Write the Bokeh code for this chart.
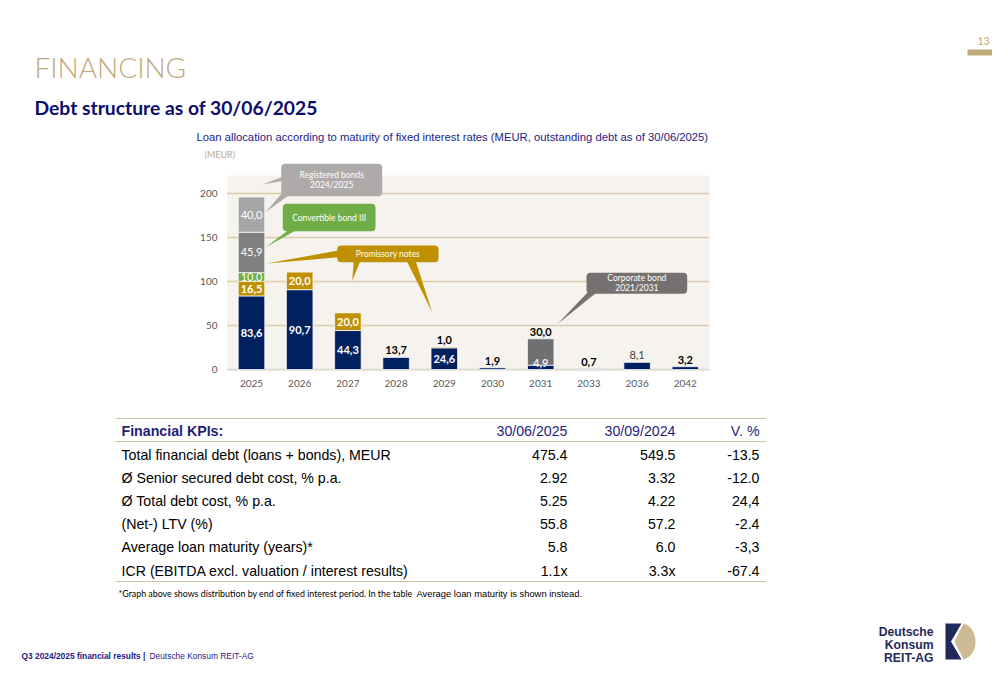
from bokeh.plotting import figure
from bokeh.models import Range1d, BoxAnnotation, ColumnDataSource, Label
from bokeh.core.properties import value
from bokeh.embed import file_html
from bokeh.resources import INLINE
import numpy as np

# ---------------- data ----------------
years = ["2025", "2026", "2027", "2028", "2029", "2030", "2031", "2033", "2036", "2042"]
loans = [83.6, 90.7, 44.3, 13.7, 24.6, 1.9, 4.9, 0.7, 8.1, 3.2]
promissory = [16.5, 20.0, 20.0, 0, 1.0, 0, 0, 0, 0, 0]
green_seg = [10.0, 0, 0, 0, 0, 0, 0, 0, 0, 0]
convertible = [45.9, 0, 0, 0, 0, 0, 0, 0, 0, 0]
registered = [40.0, 0, 0, 0, 0, 0, 0, 0, 0, 0]
corporate = [0, 0, 0, 0, 0, 0, 30.0, 0, 0, 0]
y_ticks = [0, 50, 100, 150, 200]

kpi_header = ["Financial KPIs:", "30/06/2025", "30/09/2024", "V. %"]
kpi_labels = ["Total financial debt (loans + bonds), MEUR",
              "\u00d8 Senior secured debt cost, % p.a.",
              "\u00d8 Total debt cost, % p.a.",
              "(Net-) LTV (%)",
              "Average loan maturity (years)*",
              "ICR (EBITDA excl. valuation / interest results)"]
col_2025 = ["475.4", "2.92", "5.25", "55.8", "5.8", "1.1x"]
col_2024 = ["549.5", "3.32", "4.22", "57.2", "6.0", "3.3x"]
col_var = ["-13.5", "-12.0", "24,4", "-2.4", "-3,3", "-67.4"]

# ---------------- styles ----------------
NAVY = "#002060"
GOLD = "#BF9000"
GREEN = "#70AD47"
DGRAY = "#808080"
LGRAY = "#A6A6A6"
CGRAY = "#707070"
TAN = "#BFA97B"
TITLE_BLUE = "#1C1C84"
CAL = value("Lato")
ARIAL = value("Liberation Sans")

W, H = 992, 677
p = figure(width=W, height=H, output_backend="svg", toolbar_location=None,
           x_range=Range1d(0, W), y_range=Range1d(0, H), min_border=0,
           x_axis_location=None, y_axis_location=None)
p.grid.visible = False
p.outline_line_color = None
p.background_fill_color = "white"
p.border_fill_color = "white"


def T(y):
    return H - y


def txt(x, y, s, size, color, font=ARIAL, style="normal", align="left", baseline="middle"):
    p.text(x=[x], y=[T(y)], text=[s], text_font=font, text_font_size=size,
           text_color=color, text_font_style=style, text_align=align, text_baseline=baseline)


# ---------------- chart scales ----------------
X0, DX = 251.0, 48.2      # page x of first category, spacing
Y0, PX = 369.0, 0.88      # page y of zero, px per unit
p.extra_x_ranges = {"cx": Range1d((0 - X0) / DX, (W - X0) / DX)}
p.extra_y_ranges = {"cy": Range1d((Y0 - H) / PX, (Y0 - 0) / PX)}
CR = dict(x_range_name="cx", y_range_name="cy")

# plot background
p.quad(left=[-0.504], right=[9.5], bottom=[-2.3], top=[220.5],
       fill_color="#F6F3EE", line_color=None, **CR)
# gridlines
grid_cols = ["#DCD7CE" if t == 0 else "#DCCDAA" for t in y_ticks]
p.segment(x0=[-0.504] * len(y_ticks), x1=[9.5] * len(y_ticks), y0=y_ticks, y1=y_ticks,
          line_color=grid_cols, line_width=1.6, **CR)

idx = np.arange(len(years))
series = [("loans", loans, NAVY), ("promissory", promissory, GOLD), ("green", green_seg, GREEN),
          ("convertible", convertible, DGRAY), ("registered", registered, LGRAY),
          ("corporate", corporate, CGRAY)]
bottom = np.zeros(len(years))
seg_info = []
totals = np.sum([np.array(s[1]) for s in series], axis=0)
for name, vals, col in series:
    v = np.array(vals, dtype=float)
    top = bottom + v
    mask = v > 0
    src = ColumnDataSource(dict(x=idx[mask], b=bottom[mask], t=top[mask]))
    p.vbar(x="x", bottom="b", top="t", width=0.55, source=src, fill_color=col,
           line_color="white", line_width=0.7, **CR)
    for i in np.where(mask)[0]:
        seg_info.append((name, i, bottom[i], top[i], v[i]))
    bottom = top.copy()


def fmt(v):
    return f"{v:.1f}".replace(".", ",")


lx, ly, lt, lc, ls = [], [], [], [], []
for name, i, b, t, v in seg_info:
    is_top = abs(t - totals[i]) < 1e-9
    if name == "corporate":
        y, c, s = t + 7 / PX, "black", "bold"
    elif v >= 15 or (v >= 9 and not is_top):
        y = (b + t) / 2
        c = "white"
        s = "bold" if name in ("loans", "promissory") else "normal"
    elif is_top:
        y = t + 7 / PX
        c, s = ("#404040", "normal") if years[i] == "2036" else ("black", "bold")
    else:
        y, c, s = t + 2 / PX, "#F0F0F4", "bold"
    lx.append(i); ly.append(y); lt.append(fmt(v)); lc.append(c); ls.append(s)

for style in ("bold", "normal"):
    sel = [k for k in range(len(lt)) if ls[k] == style]
    p.text(x=[lx[k] for k in sel], y=[ly[k] for k in sel], text=[lt[k] for k in sel],
           text_color=[lc[k] for k in sel], text_font=CAL, text_font_size="11px",
           text_font_style=style, text_align="center", text_baseline="middle", **CR)

# axis labels
p.text(x=idx, y=[-15.9] * len(years), text=years, text_font=CAL, text_font_size="10px",
       text_color="#595959", text_align="center", text_baseline="middle", **CR)
p.text(x=[(217 - X0) / DX] * len(y_ticks), y=y_ticks, text=[str(t) for t in y_ticks],
       text_font=CAL, text_font_size="10px", text_color="#595959", text_align="right",
       text_baseline="middle", **CR)


# ---------------- callouts ----------------
def callout(l, t, r, b, fill, lines, pointers):
    for tri in pointers:
        p.patch(x=[q[0] for q in tri], y=[T(q[1]) for q in tri], fill_color=fill, line_color=None)
    p.add_layout(BoxAnnotation(left=l, right=r, top=T(t), bottom=T(b), fill_color=fill,
                               fill_alpha=1.0, line_color=None, border_radius=4))
    n = len(lines)
    cy = (t + b) / 2
    for k, s in enumerate(lines):
        yy = cy + (k - (n - 1) / 2) * 10
        p.add_layout(Label(x=(l + r) / 2, y=T(yy), text=s, text_font="Lato",
                           text_font_size="8.5px", text_color="white",
                           text_align="center", text_baseline="middle"))


callout(280.7, 163.3, 381.7, 195.7, "#AEAAAA", ["Registered bonds", "2024/2025"],
        [[(261.7, 184), (282, 176.5), (282, 180.5)],
         [(265, 211.7), (282, 192), (288, 195)]])
callout(282.3, 203.3, 375, 230.7, GREEN, ["Convertible bond III"],
        [[(265, 246.7), (289, 229), (297, 229)]])
callout(336.7, 245, 438, 261.7, GOLD, ["Promissory notes"],
        [[(266, 263), (338, 250), (338, 256.7)],
         [(351.7, 280.5), (353.3, 260), (360, 260)],
         [(431.7, 311.7), (406, 260), (415, 260)]])
callout(586, 272.3, 686.7, 293.3, "#767171", ["Corporate bond", "2021/2031"],
        [[(557.3, 323.3), (587, 292), (596, 292)]])

# ---------------- headings ----------------
txt(34, 66, "FINANCING", "28px", TAN, font=value("'Lato Light', Lato"))
txt(34, 107, "Debt structure as of 30/06/2025", "19.3px", "#0D0D6E", font=CAL, style="bold")
txt(196, 136, "Loan allocation according to maturity of fixed interest rates (MEUR, outstanding debt as of 30/06/2025)",
    "11.27px", TITLE_BLUE)
txt(204, 154, "(MEUR)", "9px", "#C2AA7E", font=CAL)
txt(983, 40, "13", "10.5px", TAN, font=CAL, align="center")
p.quad(left=[967], right=[1000], bottom=[T(55)], top=[T(49)], fill_color="#BFAA7B", line_color=None)

# ---------------- table ----------------
p.segment(x0=[115, 115, 115], x1=[766, 766, 766], y0=[T(418), T(441), T(581)],
          y1=[T(418), T(441), T(581)], line_color="#CFC3A3", line_width=1.1)
HDR = "#1F1F7A"
FS = "14.2px"
txt(121, 430.5, kpi_header[0], FS, HDR, style="bold")
for s, xr in zip(kpi_header[1:], (567, 675, 759)):
    txt(xr, 430.5, s, FS, HDR, align="right")
row_y = [454 + 23.2 * k for k in range(len(kpi_labels))]
p.text(x=[121] * len(kpi_labels), y=[T(v) for v in row_y], text=kpi_labels, text_font=ARIAL,
       text_font_size=FS, text_color="black", text_align="left", text_baseline="middle")
for colv, xr in ((col_2025, 567), (col_2024, 675), (col_var, 759)):
    p.text(x=[xr] * len(colv), y=[T(v) for v in row_y], text=colv, text_font=ARIAL,
           text_font_size=FS, text_color="black", text_align="right", text_baseline="middle")

txt(118, 593, "*Graph above shows distribution by end of fixed interest period. In the table",
    "8.85px", "black", font=CAL)
txt(416, 593, "Average loan maturity is shown instead.", "9.4px", "black")

# ---------------- footer ----------------
txt(21, 655, "Q3 2024/2025 financial results |", "8.4px", "#1C1C84", style="bold")
txt(149, 655, "Deutsche Konsum REIT-AG", "8.4px", "#1C1C84")

LOGO = "#1F2A5A"
for k, s in enumerate(["Deutsche", "Konsum", "REIT-AG"]):
    txt(933, 631 + 13.3 * k, s, "12.2px", LOGO, style="bold", align="right")
# logo mark
p.patch(x=[945, 961, 950.5, 961, 945], y=[T(623), T(623), T(641), T(659), T(659)],
        fill_color=LOGO, line_color=None)
ang2 = np.linspace(np.pi / 2, -np.pi / 2, 40)
px_ = [963, 954, 963] + list(961 + 14 * np.cos(ang2))
py_ = [623, 641, 659] + list(641 + 18 * np.sin(ang2))
p.patch(x=px_, y=[T(v) for v in py_], fill_color="#CDBB96", line_color=None)

open("out.html", "w").write(file_html(p, INLINE))
